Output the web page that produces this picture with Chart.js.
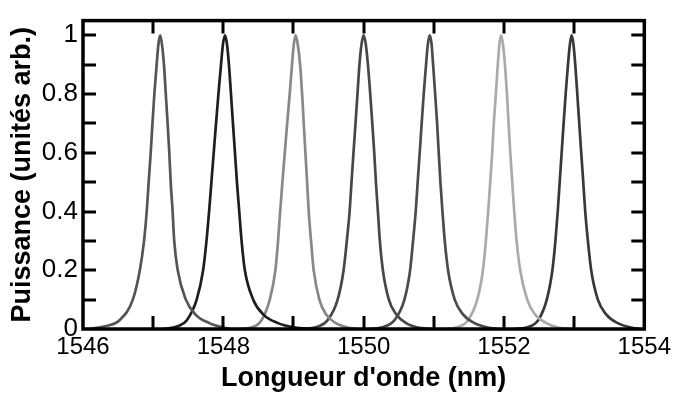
<!DOCTYPE html>
<html>
<head>
<meta charset="utf-8">
<script src="https://cdn.jsdelivr.net/npm/chart.js@4.4.0/dist/chart.umd.min.js"></script>
<style>
  html, body { margin: 0; padding: 0; background: #fff; }
  #wrap { width: 675px; height: 397px; }
</style>
</head>
<body>
<div id="wrap"><canvas id="spectre"></canvas></div>
<script>
// longueurs d'onde (nm) et puissance lues sur chaque pic
var lambda1 = [1546.09, 1546.33, 1546.52, 1546.71, 1546.81, 1546.87, 1546.908, 1546.936, 1546.965, 1546.99, 1547.017, 1547.05, 1547.075, 1547.10,
    1547.125, 1547.154, 1547.18, 1547.206, 1547.23, 1547.25, 1547.277, 1547.30, 1547.35, 1547.466, 1547.6, 1547.8, 1548.0, 1548.1];
var power1 = [0, 0.01, 0.03, 0.1, 0.2, 0.3, 0.4, 0.5, 0.6, 0.7, 0.8, 0.9, 0.97, 1,
    0.97, 0.9, 0.8, 0.7, 0.6, 0.5, 0.4, 0.3, 0.2, 0.1, 0.05, 0.02, 0.005, 0];

var lambda2 = [1547.15, 1547.36, 1547.48, 1547.62, 1547.712, 1547.76, 1547.797, 1547.83, 1547.863, 1547.896, 1547.93, 1547.967, 1547.995, 1548.024,
    1548.052, 1548.08, 1548.109, 1548.137, 1548.166, 1548.194, 1548.227, 1548.26, 1548.307, 1548.426, 1548.568, 1548.78, 1549.02, 1549.25];
var power2 = [0, 0.01, 0.03, 0.1, 0.2, 0.3, 0.4, 0.5, 0.6, 0.7, 0.8, 0.9, 0.97, 1,
    0.97, 0.9, 0.8, 0.7, 0.6, 0.5, 0.4, 0.3, 0.2, 0.1, 0.05, 0.02, 0.005, 0];

var lambda3 = [1548.21, 1548.40, 1548.544, 1548.662, 1548.742, 1548.78, 1548.81, 1548.842, 1548.876, 1548.91, 1548.946, 1548.979, 1549.005, 1549.03,
    1549.06, 1549.094, 1549.123, 1549.146, 1549.17, 1549.194, 1549.217, 1549.25, 1549.288, 1549.369, 1549.463, 1549.605, 1549.77, 1549.91];
var power3 = [0, 0.005, 0.03, 0.1, 0.2, 0.3, 0.4, 0.5, 0.6, 0.7, 0.8, 0.9, 0.97, 1,
    0.97, 0.9, 0.8, 0.7, 0.6, 0.5, 0.4, 0.3, 0.2, 0.1, 0.05, 0.02, 0.005, 0];

var lambda4 = [1549.16, 1549.30, 1549.487, 1549.629, 1549.714, 1549.76, 1549.8, 1549.827, 1549.855, 1549.884, 1549.912, 1549.94, 1549.97, 1550.0,
    1550.03, 1550.061, 1550.094, 1550.123, 1550.151, 1550.175, 1550.203, 1550.231, 1550.274, 1550.359, 1550.463, 1550.605, 1550.77, 1550.96];
var power4 = [0, 0.005, 0.03, 0.1, 0.2, 0.3, 0.4, 0.5, 0.6, 0.7, 0.8, 0.9, 0.97, 1,
    0.97, 0.9, 0.8, 0.7, 0.6, 0.5, 0.4, 0.3, 0.2, 0.1, 0.05, 0.02, 0.005, 0];

var lambda5 = [1550.06, 1550.25, 1550.44, 1550.581, 1550.662, 1550.704, 1550.742, 1550.77, 1550.799, 1550.827, 1550.856, 1550.889, 1550.915, 1550.943,
    1550.968, 1550.99, 1551.019, 1551.047, 1551.07, 1551.094, 1551.123, 1551.156, 1551.203, 1551.298, 1551.416, 1551.581, 1551.77, 1551.91];
var power5 = [0, 0.005, 0.03, 0.1, 0.2, 0.3, 0.4, 0.5, 0.6, 0.7, 0.8, 0.9, 0.97, 1,
    0.97, 0.9, 0.8, 0.7, 0.6, 0.5, 0.4, 0.3, 0.2, 0.1, 0.05, 0.02, 0.005, 0];

var lambda6 = [1551.16, 1551.32, 1551.487, 1551.619, 1551.70, 1551.742, 1551.775, 1551.804, 1551.832, 1551.855, 1551.884, 1551.912, 1551.935, 1551.958,
    1551.985, 1552.014, 1552.042, 1552.066, 1552.09, 1552.118, 1552.146, 1552.18, 1552.231, 1552.331, 1552.44, 1552.605, 1552.77, 1552.96];
var power6 = [0, 0.005, 0.03, 0.1, 0.2, 0.3, 0.4, 0.5, 0.6, 0.7, 0.8, 0.9, 0.97, 1,
    0.97, 0.9, 0.8, 0.7, 0.6, 0.5, 0.4, 0.3, 0.2, 0.1, 0.05, 0.02, 0.005, 0];

var lambda7 = [1552.16, 1552.32, 1552.487, 1552.61, 1552.69, 1552.733, 1552.766, 1552.794, 1552.822, 1552.85, 1552.879, 1552.912, 1552.94, 1552.964,
    1552.99, 1553.016, 1553.045, 1553.073, 1553.101, 1553.13, 1553.158, 1553.196, 1553.243, 1553.338, 1553.456, 1553.621, 1553.81, 1553.93];
var power7 = [0, 0.005, 0.03, 0.1, 0.2, 0.3, 0.4, 0.5, 0.6, 0.7, 0.8, 0.9, 0.97, 1,
    0.97, 0.9, 0.8, 0.7, 0.6, 0.5, 0.4, 0.3, 0.2, 0.1, 0.05, 0.02, 0.005, 0];

var peakColors = ["#555555", "#1e1e1e", "#888888", "#474747", "#4b4b4b", "#aaaaaa", "#383838"];

var xTicks = [1546, 1548, 1550, 1552, 1554];      // graduations avec texte
var yTicks = ["0", "0.2", "0.4", "0.6", "0.8", "1"];

var allLambda = [lambda1, lambda2, lambda3, lambda4, lambda5, lambda6, lambda7];
var allPower = [power1, power2, power3, power4, power5, power6, power7];

var datasets = allLambda.map(function (lam, i) {
    return {
        data: lam.map(function (x, j) { return { x: x, y: allPower[i][j] }; }),
        borderColor: peakColors[i],
        borderWidth: 2.7,
        pointRadius: 0,
        fill: false,
        cubicInterpolationMode: 'monotone'
    };
});

// cadre + graduations vers l'intérieur
var frameTicks = {
    id: 'frameTicks',
    afterDraw: function (chart) {
        var ctx = chart.ctx, a = chart.chartArea;
        var xs = chart.scales.x, ys = chart.scales.y;
        var len = 13;
        ctx.save();
        ctx.strokeStyle = '#000';
        ctx.lineWidth = 3;
        ctx.lineCap = 'butt';
        ctx.beginPath();
        xs.ticks.forEach(function (t) {
            if (t.value <= xs.min || t.value >= xs.max) return;
            var px = Math.round(xs.getPixelForValue(t.value));
            ctx.moveTo(px, a.bottom); ctx.lineTo(px, a.bottom - len);
            ctx.moveTo(px, a.top); ctx.lineTo(px, a.top + len);
        });
        ys.ticks.forEach(function (t) {
            if (t.value <= ys.min || t.value >= ys.max - 0.01) return;
            var py = Math.round(ys.getPixelForValue(t.value));
            ctx.moveTo(a.left, py); ctx.lineTo(a.left + len, py);
            ctx.moveTo(a.right, py); ctx.lineTo(a.right - len, py);
        });
        ctx.stroke();
        ctx.lineWidth = 3.5;
        ctx.strokeRect(a.left, a.top, a.right - a.left, a.bottom - a.top);
        ctx.restore();
    }
};

new Chart(document.getElementById("spectre"), {
    type: 'line',
    data: { datasets: datasets },
    plugins: [frameTicks],
    options: {
        responsive: true,
        maintainAspectRatio: false,
        animation: false,
        layout: { padding: { top: 12, right: 28, left: 0, bottom: 0 } },
        plugins: {
            legend: { display: false },
            tooltip: { enabled: false }
        },
        scales: {
            x: {
                type: 'linear',
                min: 1546,
                max: 1554,
                grid: { display: false, drawTicks: false },
                border: { display: false },
                afterFit: function (s) { s.height = 68; },
                ticks: {
                    stepSize: 1,
                    padding: 4,
                    maxRotation: 0,
                    autoSkip: false,
                    color: '#000',
                    font: { family: 'Liberation Sans', size: 24 },
                    callback: function (v) {
                        return xTicks.indexOf(Math.round(v)) >= 0 && Math.abs(v - Math.round(v)) < 1e-6 ? String(Math.round(v)) : '';
                    }
                },
                title: {
                    display: true,
                    text: "Longueur d'onde (nm)",
                    color: '#000',
                    font: { family: 'Liberation Sans', size: 27, weight: 'bold' },
                    padding: { top: 0, bottom: 2 }
                }
            },
            y: {
                min: 0,
                max: 1.05,
                grid: { display: false, drawTicks: false },
                border: { display: false },
                afterFit: function (s) { s.width = 83; },
                ticks: {
                    stepSize: 0.1,
                    includeBounds: false,
                    padding: 5,
                    autoSkip: false,
                    color: '#000',
                    font: { family: 'Liberation Sans', size: 26 },
                    callback: function (v) {
                        var k = Math.round(v * 10);
                        if (Math.abs(v * 10 - k) > 1e-6 || k % 2 !== 0) return '';
                        return yTicks[k / 2];
                    }
                },
                title: {
                    display: true,
                    text: 'Puissance (unités arb.)',
                    color: '#000',
                    font: { family: 'Liberation Sans', size: 27, weight: 'bold' },
                    padding: { top: 6, bottom: 0 }
                }
            }
        }
    }
});
</script>
</body>
</html>
